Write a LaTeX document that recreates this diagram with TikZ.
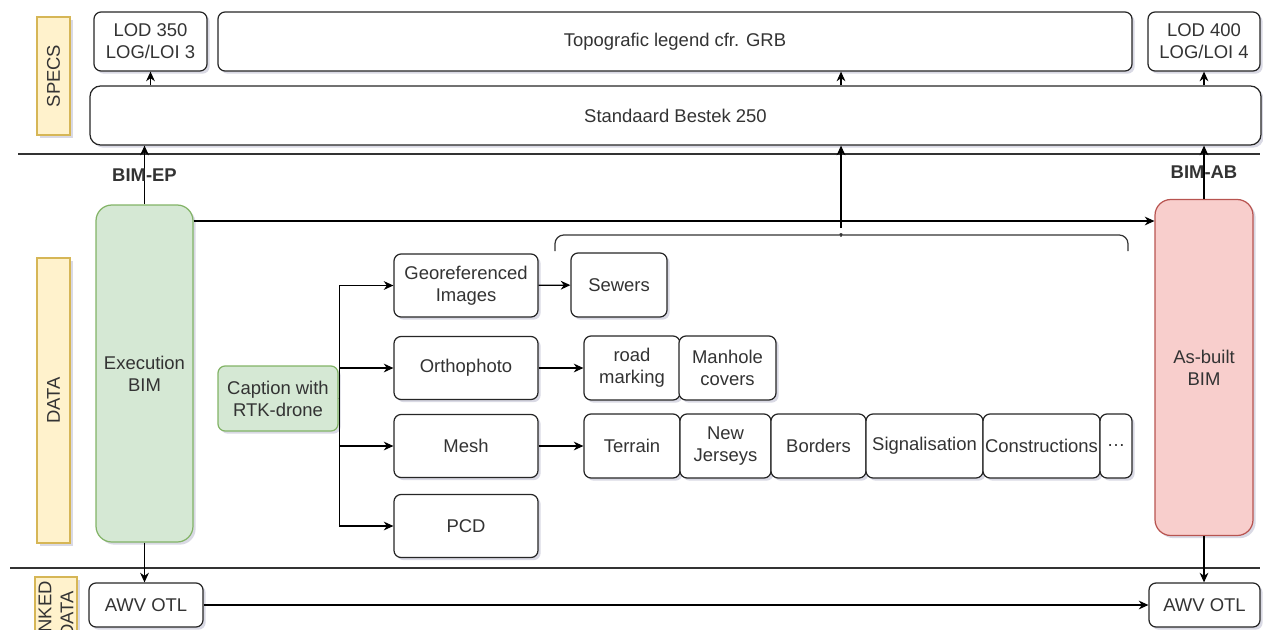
\documentclass[tikz,border=0pt]{standalone}
\usepackage{fontspec}
\setmainfont{Liberation Sans}
\usetikzlibrary{arrows.meta,shadows}
\newcommand{\pxlen}{0.02cm}
\definecolor{lanefill}{HTML}{FFF2CC}
\definecolor{laneline}{HTML}{D6B656}
\definecolor{gfill}{HTML}{D5E8D4}
\definecolor{gline}{HTML}{82B366}
\definecolor{rfill}{HTML}{F8CECC}
\definecolor{rline}{HTML}{B85450}
\tikzset{
  shd/.style={drop shadow={opacity=0.15, shadow xshift=1.5pt, shadow yshift=-1.5pt, fill=blue!30!black}},
  box/.style={draw=black!85, fill=white, line width=0.7pt, rounded corners=4pt, align=center,
    inner sep=1pt, text=black!80, shd},
  lane/.style={draw=laneline, fill=lanefill, line width=0.7pt, rotate=90, align=center,
    inner sep=0pt, text=black!80, shd},
  sep/.style={draw=black!80, line width=0.7pt},
  arr/.style={draw=black, line width=0.7pt, -{Stealth[length=5.5pt,width=5pt]}},
  lbl/.style={font=\fontsize{10.5}{12.5}\selectfont\bfseries, text=black!80},
}
\begin{document}
\begin{tikzpicture}[x=\pxlen, y=-\pxlen, font=\fontsize{10.5}{12.5}\selectfont]
\useasboundingbox (0,0) rectangle (1263,629);
\clip (0,0) rectangle (1263,629);
% lanes
\node[lane, minimum width=118*\pxlen, minimum height=33*\pxlen] (specs) at (53.5,76) {SPECS};
\node[lane, minimum width=285*\pxlen, minimum height=33*\pxlen] (data) at (53.5,400.5) {DATA};
\node[lane, minimum width=75*\pxlen, minimum height=42*\pxlen] (linked) at (56,614.5) {LINKED\\DATA};
\draw[sep] (18,154) -- (1260,154);
\draw[sep] (10,568) -- (1260,568);
% specs
\node[box, minimum width=113*\pxlen, minimum height=59*\pxlen] (lod3) at (150.5,41.5) {LOD 350\\LOG/LOI 3};
\node[box, minimum width=914*\pxlen, minimum height=59*\pxlen] (topo) at (675,41.5) {Topografic legend cfr. GRB};
\node[box, minimum width=112*\pxlen, minimum height=59*\pxlen] (lod4) at (1204,41.5) {LOD 400\\LOG/LOI 4};
\node[box, rounded corners=6pt, minimum width=1171*\pxlen, minimum height=59*\pxlen] (std) at (675.5,115.5) {Standaard Bestek 250};
% bim models
\node[box, fill=gfill, draw=gline, rounded corners=9pt, minimum width=97*\pxlen, minimum height=337*\pxlen] (exe) at (144.5,373.5) {Execution\\BIM};
\node[box, fill=rfill, draw=rline, rounded corners=9pt, minimum width=98*\pxlen, minimum height=336*\pxlen] (ab) at (1204,367.5) {As-built\\BIM};
% drone products
\node[box, fill=gfill, draw=gline, minimum width=120*\pxlen, minimum height=65*\pxlen] (cap) at (278,398.5) {Caption with\\RTK-drone};
\foreach \n/\y/\t in {geo/285.5/{Georeferenced\\Images}, ortho/368/Orthophoto, mesh/446/Mesh, pcd/526/PCD} {
  \node[box, minimum width=144*\pxlen, minimum height=63*\pxlen] (\n) at (466,\y) {\t};
  \draw[arr] (cap.east) -- ++(1,0) |- (\n);
}
\node[box, minimum width=96*\pxlen, minimum height=64*\pxlen] (sew) at (619,285) {Sewers};
\node[box, minimum width=96*\pxlen, minimum height=64*\pxlen] (road) at (632,368) {road\\marking};
\node[box, minimum width=97*\pxlen, minimum height=64*\pxlen] (man) at (727.5,368) {Manhole\\covers};
\foreach \n/\xa/\xb/\t in {ter/584/680/Terrain, nj/680/771/{New\\Jerseys}, bor/771/866/Borders,
    sig/866/983/Signalisation, con/983/1100/Constructions, etc/1100/1132/{\ldots}} {
  \node[box, minimum width=(\xb-\xa)*\pxlen, minimum height=64*\pxlen, inner sep=0pt] (\n) at ({(\xa+\xb)/2},446) {\t};
}
\draw[arr] (geo) -- (sew);
\draw[arr] (ortho) -- (road);
\draw[arr] (mesh) -- (ter);
% brace over the objects
\coordinate (tip) at (841,228);
\draw[black!80, line width=0.7pt, rounded corners=5pt] (555,251) -- (555,235) -- (835,235)
  .. controls (839,235) and (841,233) .. (tip) .. controls (841,233) and (843,235) .. (847,235)
  -- (1128,235) -- (1128,251);
% links to the specs
\coordinate (fed) at (0,221);
\draw[arr] (exe.east |- fed) -- (ab.west |- fed);
\draw[arr] (exe.north) -- node[lbl] {BIM-EP} (exe.north |- std.south);
\draw[arr] (std.north -| lod3.south) -- (lod3.south);
\draw[arr] (tip) -- (tip |- std.south);
\draw[arr] (std.north -| tip) -- (topo.south -| tip);
\draw[arr] (ab.north) -- node[lbl] {BIM-AB} (ab.north |- std.south);
\draw[arr] (std.north -| lod4.south) -- (lod4.south);
% linked data
\node[box, minimum width=114*\pxlen, minimum height=44*\pxlen] (awv1) at (146,605) {AWV OTL};
\node[box, minimum width=111*\pxlen, minimum height=44*\pxlen] (awv2) at (1204.5,605) {AWV OTL};
\draw[arr] (exe.south) -- (exe.south |- awv1.north);
\draw[arr] (ab.south) -- (ab.south |- awv2.north);
\draw[arr] (awv1) -- (awv2);
\end{tikzpicture}
\end{document}
